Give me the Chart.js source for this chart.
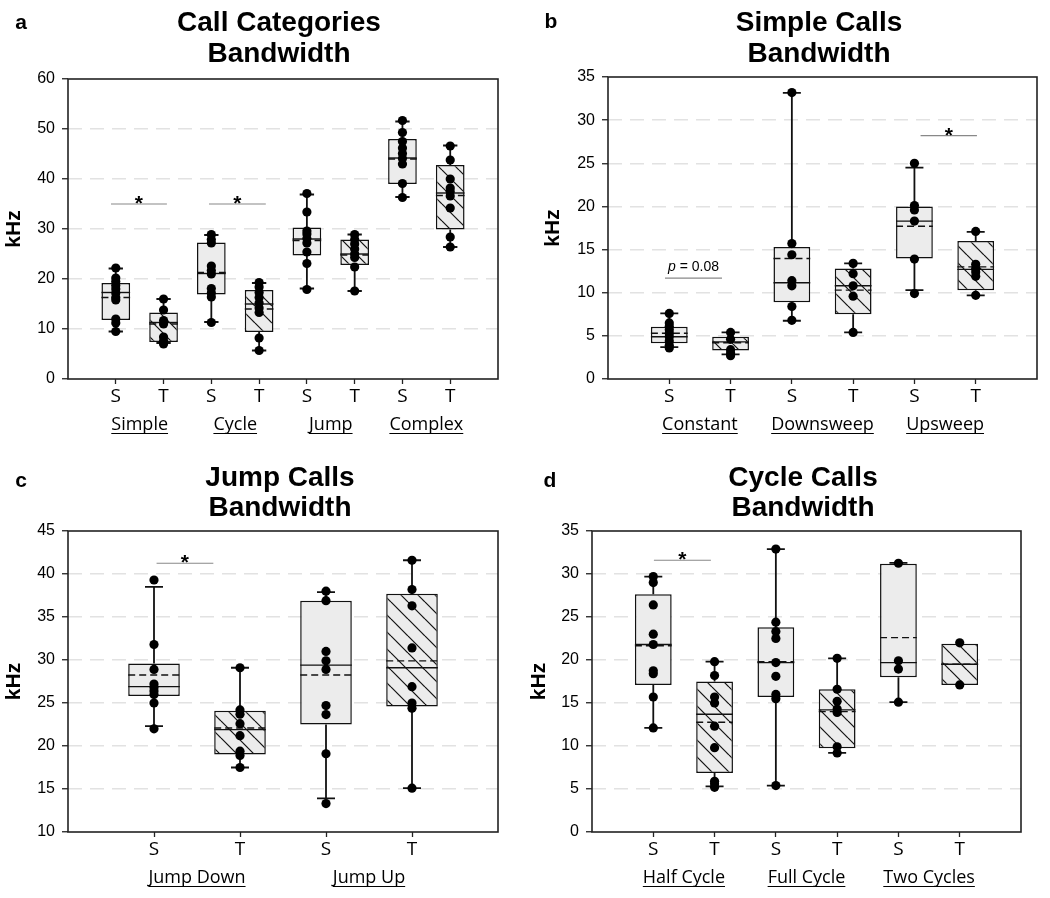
<!DOCTYPE html>
<html>
<head>
<meta charset="utf-8">
<script src="https://cdn.jsdelivr.net/npm/chart.js@4.4.1/dist/chart.umd.min.js"></script>
<style>
    body { margin: 0; background: #fff; width: 1050px; height: 898px; position: relative; overflow: hidden; }
    .panel { position: absolute; width: 525px; height: 449px; }
</style>
</head>
<body>
<div class="panel" style="left:0;top:0"><canvas id="chartA" width="525" height="449"></canvas></div>
<div class="panel" style="left:525px;top:0"><canvas id="chartB" width="525" height="449"></canvas></div>
<div class="panel" style="left:0;top:449px"><canvas id="chartC" width="525" height="449"></canvas></div>
<div class="panel" style="left:525px;top:449px"><canvas id="chartD" width="525" height="449"></canvas></div>
<script>
// ---- a: Call Categories ----
const aGroups = ['Simple', 'Cycle', 'Jump', 'Complex'];
const aTicks = ['S', 'T', 'S', 'T', 'S', 'T', 'S', 'T'];
const aQ1 = [11.8, 7.4, 16.9, 9.4, 24.7, 22.8, 39.0, 29.9];
const aQ3 = [19.2, 13.3, 27.3, 17.8, 30.3, 27.9, 48.0, 42.8];
const aMedian = [17.3, 11.3, 21.1, 15.0, 28.0, 25.0, 44.2, 37.2];
const aMean = [16.3, 11.0, 21.3, 14.0, 27.7, 24.8, 44.0, 36.7];
const aLow = [9.5, 7.2, 11.4, 5.7, 18.1, 17.6, 36.4, 26.4];
const aHigh = [22.1, 16.0, 28.8, 19.2, 36.9, 28.9, 51.5, 46.7];
const aPoints = [
    [22.2, 20.2, 19.5, 18.7, 18.0, 17.2, 16.3, 15.8, 12.0, 11.2, 9.5],
    [16.0, 13.8, 11.7, 11.0, 8.4, 7.6, 7.0],
    [28.9, 27.9, 27.2, 22.6, 21.7, 21.0, 18.1, 17.2, 16.4, 11.3],
    [19.3, 18.4, 17.3, 16.3, 15.2, 14.2, 13.3, 8.2, 5.7],
    [37.1, 33.4, 29.6, 29.0, 28.1, 27.2, 25.4, 23.1, 17.9],
    [28.9, 27.9, 27.0, 26.0, 25.0, 24.3, 22.4, 17.6],
    [51.7, 49.3, 47.5, 46.2, 45.1, 44.1, 43.0, 39.1, 36.3],
    [46.6, 43.8, 40.0, 38.2, 37.5, 36.6, 34.2, 28.4, 26.4]
];
const aSig = [[0.9, 2.07, 35, '*'], [2.95, 4.14, 35, '*']];

// ---- b: Simple Calls ----
const bGroups = ['Constant', 'Downsweep', 'Upsweep'];
const bTicks = ['S', 'T', 'S', 'T', 'S', 'T'];
const bQ1 = [4.13, 3.3, 8.9, 7.5, 13.97, 10.3];
const bQ3 = [6.06, 4.9, 15.3, 12.8, 20.0, 16.0];
const bMedian = [4.9, 4.3, 11.15, 10.8, 18.3, 12.7];
const bMean = [5.3, 4.2, 13.97, 10.3, 17.7, 13.0];
const bLow = [3.7, 2.85, 6.75, 5.4, 10.3, 9.7];
const bHigh = [7.6, 5.4, 33.15, 13.4, 24.5, 17.06];
const bPoints = [
    [7.6, 6.5, 6.1, 5.7, 5.3, 4.9, 4.4, 3.9, 3.6],
    [5.4, 4.6, 3.4, 3.0, 2.7],
    [33.2, 15.7, 14.4, 11.4, 10.8, 8.4, 6.8],
    [13.4, 12.2, 10.8, 9.6, 5.4],
    [25.0, 20.1, 19.6, 18.3, 13.9, 9.9],
    [17.1, 13.3, 12.8, 12.4, 11.9, 9.7]
];
const bSig = [[0.93, 1.86, 11.7, 'p = 0.08'], [5.1, 6.02, 28.2, '*']];

// ---- c: Jump Calls ----
const cGroups = ['Jump Down', 'Jump Up'];
const cTicks = ['S', 'T', 'S', 'T'];
const cQ1 = [25.8, 19.0, 22.5, 24.6];
const cQ3 = [29.6, 24.1, 36.9, 37.7];
const cMedian = [26.9, 21.9, 29.4, 29.1];
const cMean = [28.25, 22.1, 28.25, 29.9];
const cLow = [22.3, 17.5, 13.9, 15.1];
const cHigh = [38.5, 29.1, 37.9, 41.6];
const cPoints = [
    [39.3, 31.8, 28.9, 27.2, 26.8, 26.4, 26.0, 25.0, 22.0],
    [29.1, 24.2, 23.7, 22.6, 21.2, 19.4, 18.9, 17.5],
    [38.0, 36.9, 31.0, 29.9, 28.9, 24.7, 23.65, 19.1, 13.3],
    [41.6, 38.2, 36.3, 31.4, 26.9, 25.0, 24.4, 15.1]
];
const cSig = [[1.03, 1.69, 41.25, '*']];

// ---- d: Cycle Calls ----
const dGroups = ['Half Cycle', 'Full Cycle', 'Two Cycles'];
const dTicks = ['S', 'T', 'S', 'T', 'S', 'T'];
const dQ1 = [17.1, 6.85, 15.7, 9.75, 18.0, 17.1];
const dQ3 = [27.65, 17.5, 23.8, 16.6, 31.2, 21.9];
const dMedian = [21.8, 13.7, 19.7, 14.2, 19.7, 19.5];
const dMean = [21.66, 12.76, 19.8, 14.0, 22.6, 19.5];
const dLow = [12.1, 5.3, 5.4, 9.2, 15.1, null];
const dHigh = [29.7, 19.8, 32.9, 20.2, 31.3, null];
const dPoints = [
    [29.7, 29.0, 26.4, 23.0, 21.8, 18.75, 18.4, 15.7, 12.1],
    [19.8, 18.2, 15.7, 15.0, 12.3, 9.8, 5.9, 5.6, 5.2],
    [32.9, 24.4, 23.3, 22.5, 19.7, 18.1, 16.0, 15.5, 5.4],
    [20.2, 16.6, 15.2, 14.3, 13.9, 9.9, 9.2],
    [31.25, 19.9, 18.95, 15.1],
    [22.0, 17.1]
];
const dSig = [[1.01, 1.94, 31.6, '*']];

const SANS = '"Liberation Sans", Arial, sans-serif';
const LABEL_FONT = '"Open Sans", "Liberation Sans", sans-serif';

// Patrón rayado para las cajas T
const crearRayado = () => {
    const s = 17;
    const c = document.createElement('canvas');
    c.width = s; c.height = s;
    const g = c.getContext('2d');
    g.fillStyle = '#ececec';
    g.fillRect(0, 0, s, s);
    g.strokeStyle = '#111';
    g.lineWidth = 1.2;
    for (let k = -1; k <= 1; k++) {
        g.beginPath();
        g.moveTo(0, k * s);
        g.lineTo(s, s + k * s);
        g.stroke();
    }
    return g.createPattern(c, 'repeat');
};
const rayado = crearRayado();

const panels = [
    { id: 'chartA', letter: 'a', title: ['Call Categories', 'Bandwidth'], groups: aGroups, ticks: aTicks,
      q1: aQ1, q3: aQ3, median: aMedian, mean: aMean, low: aLow, high: aHigh, points: aPoints, sig: aSig,
      yMin: 0, yMax: 60, yStep: 10,
      box: { left: 68, right: 27, top: 79, bottom: 70, titleX: 279, titleY: [23, 54], letterXY: [21, 23], kPad: 2 } },
    { id: 'chartB', letter: 'b', title: ['Simple Calls', 'Bandwidth'], groups: bGroups, ticks: bTicks,
      q1: bQ1, q3: bQ3, median: bMedian, mean: bMean, low: bLow, high: bHigh, points: bPoints, sig: bSig,
      yMin: 0, yMax: 35, yStep: 5,
      box: { left: 83, right: 13, top: 77, bottom: 70, titleX: 294, titleY: [23, 54], letterXY: [26, 22], kPad: 16 } },
    { id: 'chartC', letter: 'c', title: ['Jump Calls', 'Bandwidth'], groups: cGroups, ticks: cTicks,
      q1: cQ1, q3: cQ3, median: cMedian, mean: cMean, low: cLow, high: cHigh, points: cPoints, sig: cSig,
      yMin: 10, yMax: 45, yStep: 5,
      box: { left: 68, right: 27, top: 82, bottom: 66, titleX: 280, titleY: [29, 59], letterXY: [21, 32], kPad: 2 } },
    { id: 'chartD', letter: 'd', title: ['Cycle Calls', 'Bandwidth'], groups: dGroups, ticks: dTicks,
      q1: dQ1, q3: dQ3, median: dMedian, mean: dMean, low: dLow, high: dHigh, points: dPoints, sig: dSig,
      yMin: 0, yMax: 35, yStep: 5,
      box: { left: 67, right: 29, top: 82, bottom: 66, titleX: 278, titleY: [29, 59], letterXY: [25, 32], kPad: 2 } }
];

// Bigotes, mediana, media, marco y textos
const crearPlugin = (p) => ({
    id: 'cajas_' + p.id,
    afterDatasetDraw(chart, args) {
        if (args.meta.type !== 'bar') return;
        const { ctx } = chart;
        const x = chart.scales.x, y = chart.scales.y;
        ctx.save();
        ctx.strokeStyle = '#111';
        args.meta.data.forEach((bar, i) => {
            const cx = x.getPixelForValue(i + 1);
            const half = bar.width / 2;
            const cap = Math.min(18, bar.width * 0.5) / 2;
            ctx.lineWidth = 1.8;
            ctx.setLineDash([]);
            [[p.low[i], p.q1[i]], [p.high[i], p.q3[i]]].forEach(([end, edge]) => {
                if (end == null) return;
                ctx.beginPath();
                ctx.moveTo(cx, y.getPixelForValue(edge));
                ctx.lineTo(cx, y.getPixelForValue(end));
                ctx.moveTo(cx - cap, y.getPixelForValue(end));
                ctx.lineTo(cx + cap, y.getPixelForValue(end));
                ctx.stroke();
            });
            ctx.lineWidth = 1.4;
            ctx.beginPath();
            ctx.moveTo(cx - half, y.getPixelForValue(p.median[i]));
            ctx.lineTo(cx + half, y.getPixelForValue(p.median[i]));
            ctx.stroke();
            ctx.setLineDash([7, 4]);
            ctx.beginPath();
            ctx.moveTo(cx - half, y.getPixelForValue(p.mean[i]));
            ctx.lineTo(cx + half, y.getPixelForValue(p.mean[i]));
            ctx.stroke();
        });
        ctx.restore();
    },
    afterDraw(chart) {
        const { ctx, chartArea: a } = chart;
        const x = chart.scales.x, y = chart.scales.y;
        ctx.save();
        // marco
        ctx.strokeStyle = '#222';
        ctx.lineWidth = 1.6;
        ctx.strokeRect(a.left, a.top, a.right - a.left, a.bottom - a.top);
        // título y letra
        ctx.fillStyle = '#000';
        ctx.textAlign = 'center';
        ctx.textBaseline = 'middle';
        ctx.font = 'bold 28px ' + SANS;
        p.title.forEach((t, i) => ctx.fillText(t, p.box.titleX, p.box.titleY[i]));
        ctx.font = 'bold 21px ' + SANS;
        ctx.fillText(p.letter, p.box.letterXY[0], p.box.letterXY[1]);
        // grupos subrayados
        ctx.font = '18px ' + LABEL_FONT;
        ctx.textBaseline = 'alphabetic';
        p.groups.forEach((g, i) => {
            const gx = x.getPixelForValue(2 * i + 1.5);
            const gy = a.bottom + 51;
            ctx.fillText(g, gx, gy);
            const w = ctx.measureText(g).width;
            ctx.lineWidth = 1;
            ctx.strokeStyle = '#000';
            ctx.beginPath();
            ctx.moveTo(gx - w / 2, gy + 3.5);
            ctx.lineTo(gx + w / 2, gy + 3.5);
            ctx.stroke();
        });
        // significancia
        p.sig.forEach(([from, to, val, label]) => {
            const ly = y.getPixelForValue(val);
            const x1 = x.getPixelForValue(from), x2 = x.getPixelForValue(to);
            ctx.strokeStyle = '#888';
            ctx.lineWidth = 1.2;
            ctx.beginPath();
            ctx.moveTo(x1, ly);
            ctx.lineTo(x2, ly);
            ctx.stroke();
            const mx = (x1 + x2) / 2;
            if (label === '*') {
                ctx.font = 'bold 21px ' + SANS;
                ctx.textAlign = 'center';
                ctx.fillText('*', mx, ly + 6);
            } else {
                const rest = label.slice(1);
                ctx.font = 'italic 14px ' + SANS;
                const wp = ctx.measureText('p').width;
                ctx.font = '14px ' + SANS;
                const wr = ctx.measureText(rest).width;
                const sx = mx - (wp + wr) / 2;
                ctx.textAlign = 'left';
                ctx.textBaseline = 'middle';
                ctx.font = 'italic 14px ' + SANS;
                ctx.fillText('p', sx, ly - 11);
                ctx.font = '14px ' + SANS;
                ctx.fillText(rest, sx + wp, ly - 11);
                ctx.textBaseline = 'alphabetic';
            }
        });
        ctx.restore();
    }
});

const dibujarPanel = (p) => {
    const n = p.ticks.length;
    const boxes = p.q1.map((q, i) => ({ x: i + 1, y: [q, p.q3[i]] }));
    const pts = [];
    p.points.forEach((arr, i) => arr.forEach((v) => pts.push({ x: i + 1, y: v })));
    const fills = p.ticks.map((t) => (t === 'T' ? rayado : '#ececec'));

    new Chart(document.getElementById(p.id), {
        type: 'bar',
        data: {
            datasets: [
                {
                    type: 'scatter',
                    data: pts,
                    pointRadius: 4.6,
                    pointBackgroundColor: '#000',
                    pointBorderWidth: 0,
                    order: 0
                },
                {
                    type: 'bar',
                    data: boxes,
                    backgroundColor: fills,
                    borderColor: '#111',
                    borderWidth: 1.5,
                    borderSkipped: false,
                    barPercentage: 0.6,
                    categoryPercentage: 1,
                    grouped: false,
                    order: 1
                }
            ]
        },
        options: {
            responsive: false,
            animation: false,
            layout: { padding: { left: 0, right: p.box.right, top: p.box.top, bottom: 0 } },
            plugins: { legend: { display: false }, tooltip: { enabled: false }, title: { display: false } },
            scales: {
                x: {
                    type: 'linear',
                    min: 0,
                    max: n + 1,
                    offset: false,
                    afterFit: (s) => { s.height = p.box.bottom; },
                    grid: {
                        offset: false,
                        drawOnChartArea: false,
                        tickLength: 5,
                        tickWidth: 1.3,
                        tickColor: (c) => (c.tick && c.tick.value >= 1 && c.tick.value <= n ? '#222' : 'rgba(0,0,0,0)')
                    },
                    border: { display: false },
                    ticks: {
                        stepSize: 1,
                        autoSkip: false,
                        maxRotation: 0,
                        padding: 1,
                        color: '#000',
                        font: { family: LABEL_FONT, size: 19 },
                        callback: (v) => (v >= 1 && v <= n ? p.ticks[v - 1] : '')
                    }
                },
                y: {
                    min: p.yMin,
                    max: p.yMax,
                    afterFit: (s) => { s.width = p.box.left; },
                    grid: {
                        color: (c) => (c.tick && (c.tick.value === p.yMin || c.tick.value === p.yMax) ? 'rgba(0,0,0,0)' : '#e2e2e2'),
                        lineWidth: 1.5,
                        tickLength: 6,
                        tickWidth: 1.3,
                        tickColor: '#222'
                    },
                    border: { display: false, dash: [14, 8] },
                    ticks: {
                        stepSize: p.yStep,
                        padding: 7,
                        color: '#000',
                        font: { family: SANS, size: 16 }
                    },
                    title: {
                        display: true,
                        text: 'kHz',
                        color: '#000',
                        padding: { top: p.box.kPad, bottom: 0 },
                        font: { family: SANS, size: 21, weight: 'bold' }
                    }
                }
            }
        },
        plugins: [crearPlugin(p)]
    });
};

panels.forEach(dibujarPanel);
</script>
</body>
</html>
